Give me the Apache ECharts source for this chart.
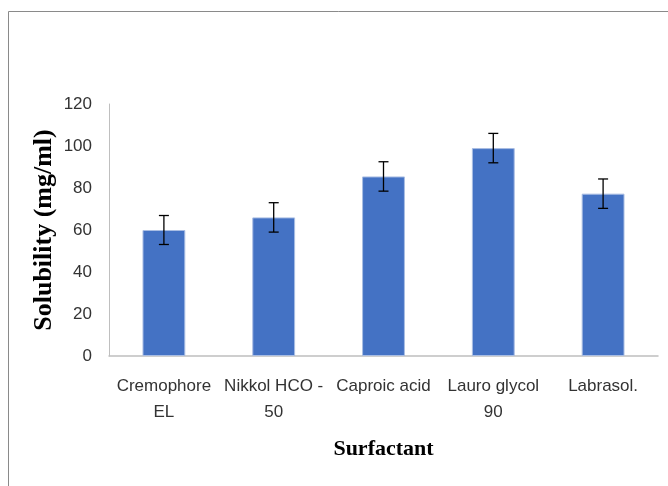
<!DOCTYPE html>
<html>
<head>
<meta charset="utf-8">
<script src="https://cdn.jsdelivr.net/npm/echarts@6/dist/echarts.min.js"></script>
<style>
html,body{margin:0;padding:0;background:#fff;}
#c{width:668px;height:486px;}
</style>
</head>
<body>
<div id="c"></div>
<script>
const categories = ["Cremophore\nEL", "Nikkol HCO -\n50", "Caproic acid", "Lauro glycol\n90", "Labrasol."];
const solubility = [60, 66, 85.5, 99, 77.3];
const errors = [6.9, 7, 7, 7, 7];
const yTicks = { min: 0, max: 120, interval: 20 };

const chart = echarts.init(document.getElementById('c'));
const labelFont = '"Liberation Sans", Arial, sans-serif';
const titleFont = '"Liberation Serif", "Times New Roman", serif';

chart.setOption({
  animation: false,
  backgroundColor: '#ffffff',
  graphic: [{
    type: 'rect',
    shape: { x: 8.5, y: 11.5, width: 700, height: 520 },
    style: { fill: 'none', stroke: '#8a8a8a', lineWidth: 1 },
    silent: true
  }],
  grid: { left: 109, right: 10, top: 104, bottom: 130 },
  xAxis: {
    type: 'category',
    data: categories,
    axisLine: { lineStyle: { color: '#bfbfbf', width: 1.5 } },
    axisTick: { show: false },
    axisLabel: {
      color: '#333333', fontFamily: labelFont, fontSize: 17, lineHeight: 26,
      margin: 17, interval: 0
    },
    name: 'Surfactant',
    nameLocation: 'middle',
    nameGap: 82,
    nameMoveOverlap: false,
    nameTextStyle: { color: '#000', fontFamily: titleFont, fontWeight: 'bold', fontSize: 22 }
  },
  yAxis: {
    type: 'value',
    min: yTicks.min, max: yTicks.max, interval: yTicks.interval,
    axisLine: { show: true, lineStyle: { color: '#bfbfbf', width: 1 } },
    axisTick: { show: false },
    splitLine: { show: false },
    axisLabel: { color: '#333333', fontFamily: labelFont, fontSize: 17, margin: 17 },
    name: 'Solubility (mg/ml)',
    nameLocation: 'middle',
    nameGap: 52,
    nameMoveOverlap: false,
    nameTextStyle: { color: '#000', fontFamily: titleFont, fontWeight: 'bold', fontSize: 26 }
  },
  series: [
    {
      type: 'bar',
      data: solubility,
      barWidth: '39%',
      itemStyle: { color: '#4472C4', borderColor: '#a9bde3', borderWidth: 1 }
    },
    {
      type: 'custom',
      data: solubility.map((v, i) => [i, v - errors[i], v + errors[i]]),
      z: 10,
      renderItem: function (params, api) {
        const x = api.value(0);
        const lo = api.coord([x, api.value(1)]);
        const hi = api.coord([x, api.value(2)]);
        const hw = 5;
        const st = { stroke: '#000', lineWidth: 1.3 };
        return {
          type: 'group',
          children: [
            { type: 'line', shape: { x1: lo[0], y1: lo[1], x2: hi[0], y2: hi[1] }, style: st },
            { type: 'line', shape: { x1: lo[0] - hw, y1: lo[1], x2: lo[0] + hw, y2: lo[1] }, style: st },
            { type: 'line', shape: { x1: hi[0] - hw, y1: hi[1], x2: hi[0] + hw, y2: hi[1] }, style: st }
          ]
        };
      }
    }
  ]
});
</script>
</body>
</html>
